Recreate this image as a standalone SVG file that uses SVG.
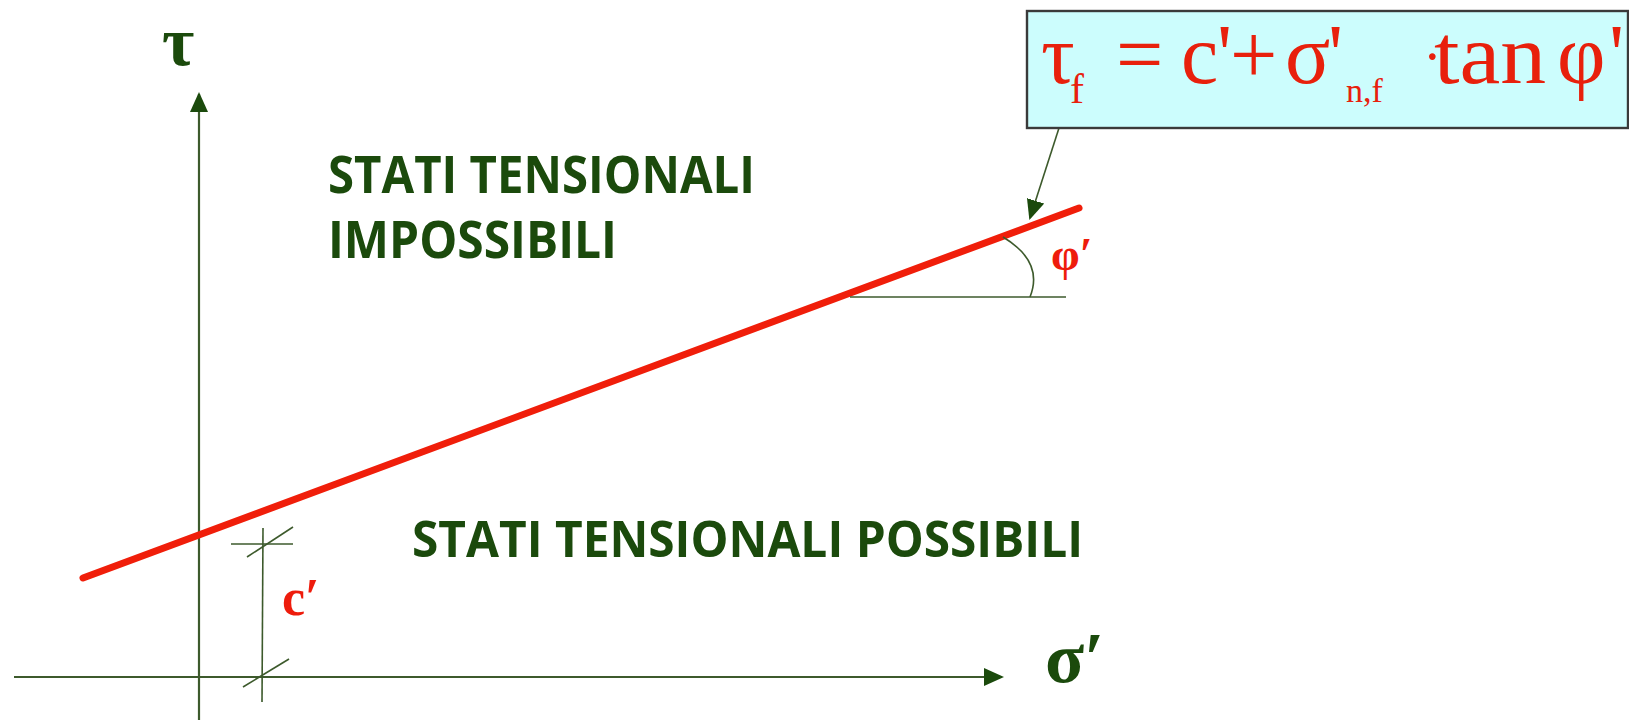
<svg xmlns="http://www.w3.org/2000/svg" width="1629" height="723" viewBox="0 0 1629 723">
<style>
.ax{stroke:#3d5a2c;stroke-width:2.2;fill:none}
.thin{stroke:#3d5a2c;stroke-width:1.6;fill:none}
.lbl{font-family:"Open Sans","Liberation Sans",sans-serif;font-weight:bold;fill:#1b4a0c}
.grk{font-family:"Liberation Serif","DejaVu Serif",serif;font-weight:bold}
.green{fill:#1b4a0c}
.red{fill:#ee1c0c}
.frm{font-family:"Liberation Serif","DejaVu Serif",serif;fill:#e8200c}
</style>
<defs>
<marker id="ahl" markerWidth="20" markerHeight="18" refX="18" refY="9" orient="auto" markerUnits="userSpaceOnUse" viewBox="0 0 20 18">
<path d="M0,0 L20,9 L0,18 z" fill="#1b4a0c"/>
</marker>
</defs>
<rect width="1629" height="723" fill="#ffffff"/>
<g id="connectors">
<line class="ax" x1="199" y1="720" x2="199" y2="94" marker-end="url(#ahl)"/>
<line class="ax" x1="14" y1="677" x2="1002" y2="677" marker-end="url(#ahl)"/>
<line x1="83" y1="578" x2="1079" y2="208" stroke="#f01e0a" stroke-width="7" stroke-linecap="round"/>
<line class="thin" x1="850" y1="297" x2="1066" y2="297"/>
<path class="thin" d="M1003,237 C1028,252 1040,272 1030,297"/>
<line class="thin" x1="1059" y1="128" x2="1030" y2="218" marker-end="url(#ahl)"/>
<line class="thin" x1="263" y1="528" x2="262" y2="702"/>
<line class="thin" x1="231" y1="544" x2="293" y2="544"/>
<line class="thin" x1="247" y1="557" x2="293" y2="527"/>
<line class="thin" x1="243" y1="687" x2="289" y2="659"/>
</g>
<g id="axis-tau">
<text class="grk green" x="162" y="65" font-size="70">τ</text>
</g>
<g id="axis-sigma">
<text class="grk green" x="1045" y="682" font-size="72">σ′</text>
</g>
<g id="label-impossibili">
<text class="lbl" x="328" y="193" font-size="52" textLength="427" lengthAdjust="spacingAndGlyphs">STATI TENSIONALI</text>
<text class="lbl" x="328" y="258" font-size="52" textLength="289" lengthAdjust="spacingAndGlyphs">IMPOSSIBILI</text>
</g>
<g id="label-possibili">
<text class="lbl" x="412" y="557" font-size="50" textLength="671" lengthAdjust="spacingAndGlyphs">STATI TENSIONALI POSSIBILI</text>
</g>
<g id="label-c">
<text class="grk red" x="282" y="615" font-size="52">c′</text>
</g>
<g id="label-phi">
<text class="grk red" x="1051" y="270" font-size="46">φ′</text>
</g>
<g id="formula">
<rect x="1027" y="11" width="601" height="117" fill="#ccfdfd" stroke="#3a3a3a" stroke-width="2.4"/>
<text class="frm" font-size="84"><tspan x="1041" y="83">τ</tspan><tspan x="1070" y="103" font-size="42">f</tspan><tspan x="1116" y="83">=</tspan><tspan x="1181" y="83">c</tspan><tspan x="1217" y="83">'</tspan><tspan x="1230" y="83">+</tspan><tspan x="1285" y="83">σ</tspan><tspan x="1328" y="83">'</tspan><tspan x="1346" y="102" font-size="34">n,f</tspan><tspan x="1423" y="76" font-size="56">·</tspan><tspan x="1434" y="83" textLength="112" lengthAdjust="spacingAndGlyphs">tan</tspan><tspan x="1557" y="83">φ</tspan><tspan x="1609" y="83">'</tspan></text>
</g>
</svg>
